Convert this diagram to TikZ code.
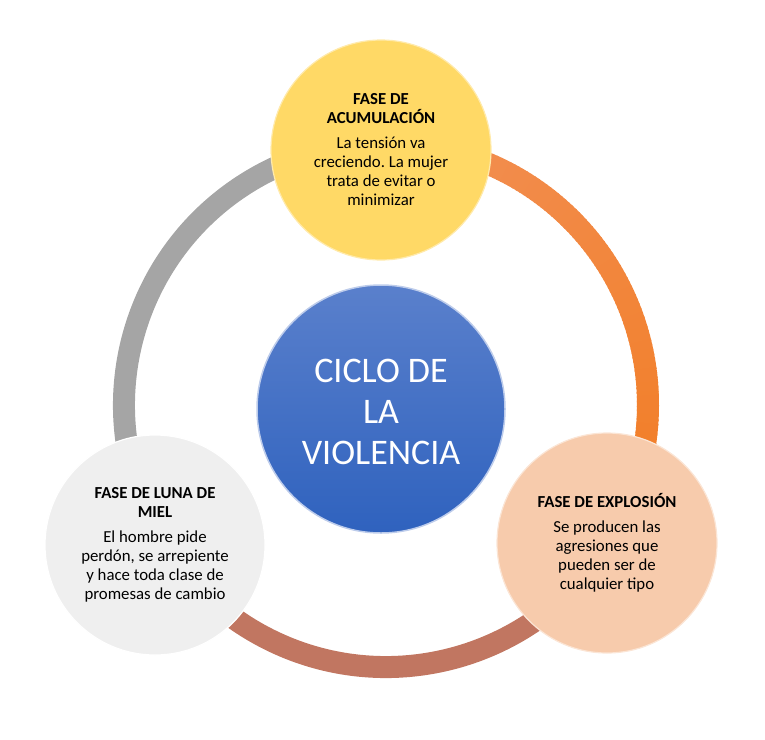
\documentclass[tikz,border=0pt]{standalone}
\usepackage{fontspec}
\setmainfont{Carlito}
\definecolor{gris}{HTML}{A5A5A5}
\definecolor{naranjaA}{HTML}{F29056}
\definecolor{naranjaB}{HTML}{F27C22}
\definecolor{marron}{HTML}{C17661}
\definecolor{amarillo}{HTML}{FFD966}
\definecolor{durazno}{HTML}{F7CBAC}
\definecolor{perla}{HTML}{EFEFEF}
\definecolor{azulA}{HTML}{5A80CC}
\definecolor{azulB}{HTML}{2F62BE}
\frenchspacing
\begin{document}
\begin{tikzpicture}[x=1pt,y=-1pt, line join=round,
  fase/.style={circle, minimum size=220pt, inner sep=0pt, align=center, line width=1.2pt,
    font=\fontsize{16.8}{19}\selectfont, text=black},
  anillo/.style={line width=22pt}]
\useasboundingbox (0,0) rectangle (765,739);
\def\cx{386} \def\cy{405} \def\R{262} % anillo
\coordinate (c) at (\cx,\cy);
\draw[anillo, gris] (c) ++(150:\R) arc[start angle=150, end angle=272, radius=\R];
\foreach \a in {270,...,389}{
  \pgfmathsetmacro\p{(\a-270)/1.2}
  \draw[anillo, naranjaB!\p!naranjaA] (c) ++(\a:\R) arc[start angle=\a, end angle=\a+1.4, radius=\R];
}
\draw[anillo, marron] (c) ++(28:\R) arc[start angle=28, end angle=152, radius=\R];
\node[fase, fill=amarillo, draw=amarillo!55!white] (acum) at (381,150)
  {\bfseries FASE DE\\\bfseries ACUMULACIÓN\\[6pt]La tensión va\\creciendo. La mujer\\trata de evitar o\\minimizar};
\node[fase, fill=durazno, draw=durazno!50!white] (expl) at (607,543)
  {\bfseries FASE DE EXPLOSIÓN\\[6pt]Se producen las\\agresiones que\\pueden ser de\\cualquier tipo};
\node[fase, fill=perla, draw=white] (miel) at (155,545)
  {\bfseries FASE DE LUNA DE\\\bfseries MIEL\\[6pt]El hombre pide\\perdón, se arrepiente\\y hace toda clase de\\promesas de cambio};
\node[circle, minimum size=248pt, inner sep=0pt, top color=azulA, bottom color=azulB,
  draw=azulA!40!white, line width=1.5pt] (ciclo) at (381,409) {};
\node[align=center, text=white, font=\fontsize{36}{41}\selectfont] (ciclotxt)
  at ([yshift=-3pt]ciclo.center) {CICLO DE\\LA\\VIOLENCIA};
\end{tikzpicture}
\end{document}
